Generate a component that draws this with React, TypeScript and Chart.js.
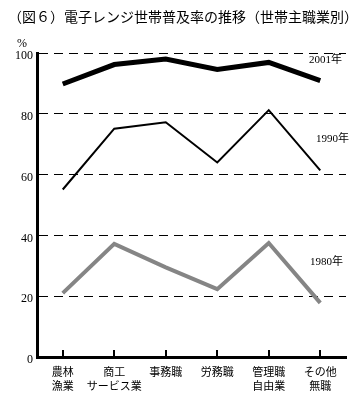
import React, { useEffect, useRef } from "react";
import { Chart, registerables } from "chart.js";

Chart.register(...registerables);

const TITLE = "（図６）電子レンジ世帯普及率の推移（世帯主職業別）";
const UNIT = "%";
const categories: (string | string[])[] = [
  ["農林", "漁業"],
  ["商工", "サービス業"],
  "事務職",
  "労務職",
  ["管理職", "自由業"],
  ["その他", "無職"],
];
const seriesNames = ["2001年", "1990年", "1980年"];
const v2001 = [89.8, 96.2, 98.0, 94.6, 96.9, 90.9];
const v1990 = [55.1, 75.1, 77.2, 64.0, 81.2, 61.4];
const v1980 = [21.0, 37.2, 29.5, 22.3, 37.5, 17.8];
const yTicks = [0, 20, 40, 60, 80, 100];

const SERIF = "'Liberation Serif', 'DejaVu Serif', 'Noto Sans CJK JP', serif";
const JP = "'Noto Sans CJK JP', sans-serif";

const decorPlugin = {
  id: "decor",
  afterDraw(chart: any) {
    const ctx = chart.ctx;
    const x = chart.scales.x;
    const y = chart.scales.y;
    const area = chart.chartArea;
    ctx.save();
    // title
    ctx.fillStyle = "#000";
    ctx.font = `14px ${JP}`;
    ctx.textBaseline = "middle";
    ctx.textAlign = "left";
    ctx.fillText(TITLE, 8, 17);
    // unit
    ctx.font = `12px ${SERIF}`;
    ctx.textAlign = "center";
    ctx.fillText(UNIT, 22, 44);
    // inward tick marks on category axis
    ctx.strokeStyle = "#000";
    ctx.lineWidth = 2;
    categories.forEach((_, i) => {
      const px = Math.round(x.getPixelForValue(i));
      ctx.beginPath();
      ctx.moveTo(px, area.bottom);
      ctx.lineTo(px, area.bottom - 7);
      ctx.stroke();
    });
    // series labels
    ctx.font = `11px ${SERIF}`;
    ctx.textAlign = "center";
    const pos = [
      [5.1, 97.6],
      [5.24, 71.6],
      [5.12, 31.2],
    ];
    seriesNames.forEach((n, i) => {
      ctx.fillText(n, x.getPixelForValue(pos[i][0]), y.getPixelForValue(pos[i][1]));
    });
    ctx.restore();
  },
};

export default function App() {
  const ref = useRef<HTMLCanvasElement | null>(null);
  useEffect(() => {
    if (!ref.current) return;
    const chart = new Chart(ref.current, {
      type: "line",
      data: {
        labels: categories as any,
        datasets: [
          { label: seriesNames[0], data: v2001, borderColor: "#000", borderWidth: 5, pointRadius: 0, tension: 0 },
          { label: seriesNames[1], data: v1990, borderColor: "#000", borderWidth: 2, pointRadius: 0, tension: 0 },
          { label: seriesNames[2], data: v1980, borderColor: "#858585", borderWidth: 4, pointRadius: 0, tension: 0 },
        ],
      },
      options: {
        responsive: false,
        animation: false,
        events: [],
        layout: { padding: { top: 53, right: 15, left: 0, bottom: 0 } },
        plugins: {
          legend: { display: false },
          title: { display: false },
          tooltip: { enabled: false },
        },
        scales: {
          x: {
            offset: true,
            grid: { display: false, drawTicks: false },
            border: { display: true, color: "#000", width: 3 },
            ticks: {
              color: "#000",
              font: { family: JP, size: 11, lineHeight: 1.35 },
              padding: 7,
              maxRotation: 0,
              autoSkip: false,
            },
            afterFit(scale: any) {
              scale.height = 37;
            },
          },
          y: {
            min: 0,
            max: 100,
            afterBuildTicks(scale: any) {
              scale.ticks = yTicks.map((v) => ({ value: v }));
            },
            grid: {
              drawTicks: false,
              color: (c: any) => (c.tick && c.tick.value === 0 ? "rgba(0,0,0,0)" : "#000"),
              lineWidth: 1,
            },
            border: { display: true, color: "#000", width: 3, dash: [9, 6] },
            ticks: {
              color: "#000",
              font: { family: SERIF, size: 12 },
              padding: 4,
              labelOffset: 3,
            },
            afterFit(scale: any) {
              scale.width = 37;
            },
          },
        },
      },
      plugins: [decorPlugin],
    });
    return () => chart.destroy();
  }, []);
  return (
    <div style={{ position: "fixed", left: 0, top: 0, width: 361, height: 394, background: "#fff" }}>
      <canvas ref={ref} width={361} height={394} style={{ display: "block" }} />
    </div>
  );
}
